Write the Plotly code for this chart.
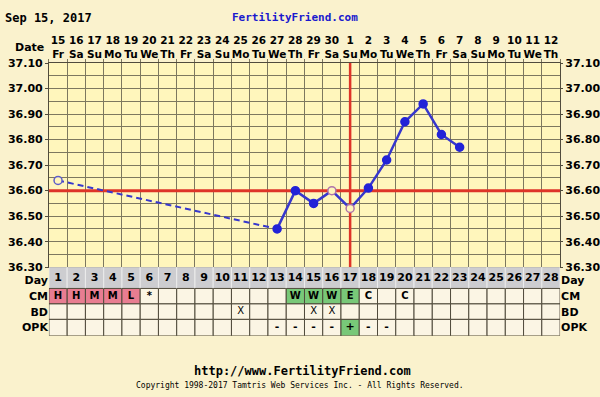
import plotly.graph_objects as go

# ---------------- data ----------------
date_nums = ["15", "16", "17", "18", "19", "20", "21", "22", "23", "24", "25", "26", "27", "28",
             "29", "30", "1", "2", "3", "4", "5", "6", "7", "8", "9", "10", "11", "12"]
weekdays = ["Fr", "Sa", "Su", "Mo", "Tu", "We", "Th"] * 4
cycle_days = list(range(1, 29))

temp_days = [1, 13, 14, 15, 16, 17, 18, 19, 20, 21, 22, 23]
temps = [36.64, 36.45, 36.60, 36.55, 36.60, 36.53, 36.61, 36.72, 36.87, 36.94, 36.82, 36.77]
open_days = [1, 16, 17]

coverline = 36.60
ovulation_day = 17
temp_ticks = [36.30, 36.40, 36.50, 36.60, 36.70, 36.80, 36.90, 37.00, 37.10]

cm_days = [1, 2, 3, 4, 5, 6, 14, 15, 16, 17, 18, 20]
cm_codes = ["H", "H", "M", "M", "L", "*", "W", "W", "W", "E", "C", "C"]
bd_days = [11, 15, 16]
bd_codes = ["X", "X", "X"]
opk_days = [13, 14, 15, 16, 17, 18, 19]
opk_codes = ["-", "-", "-", "-", "+", "-", "-"]

row_names = ["Day", "CM", "BD", "OPK"]

# ---------------- style ----------------
W, H = 600, 397
PAPER = "rgb(250,242,205)"
PLOT = "rgb(255,246,188)"
GRID = "rgb(125,120,95)"
BORDER = "rgb(80,75,60)"
BLUE = "rgb(35,35,215)"
LINEBLUE = "rgb(55,55,205)"
RED = "rgb(222,52,40)"
PINK = "rgb(232,125,145)"
GREEN = "rgb(120,200,120)"
CELL = "rgb(251,245,228)"
DAYROW = "rgb(205,205,208)"
FONT = "DejaVu Sans"

def px_x(p):
    return p / W

def px_y(p):
    return 1 - p / H

PLOT_L, PLOT_R, PLOT_T, PLOT_B = 49, 561, 59, 270
TABLE_B = 341
# table row edges (in table-axis units, pixels from top of table)
row_edges = [0, 22, 38, 54, 71]
row_centers = [(row_edges[i] + row_edges[i + 1]) / 2 for i in range(4)]
row_label_pos = [row_centers[0] + 2.5] + row_centers[1:]

fig = go.Figure()

# dashed segment across the missing days
fig.add_trace(go.Scatter(x=temp_days[:2], y=temps[:2], mode="lines",
                         line=dict(color=LINEBLUE, width=2, dash="6px,4px"),
                         hoverinfo="skip", showlegend=False))
# solid line
fig.add_trace(go.Scatter(x=temp_days[1:], y=temps[1:], mode="lines",
                         line=dict(color=LINEBLUE, width=2.5),
                         hoverinfo="skip", showlegend=False))
# markers
mfill, mline = [], []
for d in temp_days:
    if d in open_days:
        mfill.append(PLOT)
        mline.append("rgb(95,95,200)" if d == temp_days[0] else "rgb(175,115,170)")
    else:
        mfill.append(BLUE)
        mline.append(BLUE)
fig.add_trace(go.Scatter(x=temp_days, y=temps, mode="markers",
                         marker=dict(size=8, color=mfill, line=dict(color=mline, width=1.5)),
                         showlegend=False))

# invisible trace for right temperature axis
fig.add_trace(go.Scatter(x=[cycle_days[0]], y=[temp_ticks[0]], yaxis="y3", mode="markers",
                         marker=dict(opacity=0), hoverinfo="skip", showlegend=False))

# table text
fig.add_trace(go.Scatter(x=cycle_days, y=[row_centers[0]] * len(cycle_days), yaxis="y2",
                         mode="text", text=[str(d) for d in cycle_days],
                         textfont=dict(family=FONT, size=11, color="black", weight="bold"),
                         showlegend=False, hoverinfo="skip"))
fig.add_trace(go.Scatter(x=cm_days, y=[row_centers[1]] * len(cm_days), yaxis="y2",
                         mode="text", text=cm_codes,
                         textfont=dict(family=FONT, size=10, color="black", weight="bold"),
                         showlegend=False, hoverinfo="skip"))
fig.add_trace(go.Scatter(x=bd_days, y=[row_centers[2]] * len(bd_days), yaxis="y2",
                         mode="text", text=bd_codes,
                         textfont=dict(family=FONT, size=10, color="black"),
                         showlegend=False, hoverinfo="skip"))
fig.add_trace(go.Scatter(x=opk_days, y=[row_centers[3]] * len(opk_days), yaxis="y2",
                         mode="text", text=opk_codes,
                         textfont=dict(family=FONT, size=11, color="black", weight="bold"),
                         showlegend=False, hoverinfo="skip"))
# invisible trace for right table axis
fig.add_trace(go.Scatter(x=[cycle_days[0]], y=[row_centers[0]], yaxis="y4", mode="markers",
                         marker=dict(opacity=0), hoverinfo="skip", showlegend=False))

shapes = []
def cell_color(code):
    if code in ("H", "M", "L"):
        return PINK
    if code in ("W", "E"):
        return GREEN
    return CELL

cm_map = dict(zip(cm_days, cm_codes))
opk_map = dict(zip(opk_days, opk_codes))
for d in cycle_days:
    shapes.append(dict(type="rect", xref="x", yref="y2", x0=d - 0.5, x1=d + 0.5,
                       y0=row_edges[0], y1=row_edges[1], fillcolor=DAYROW,
                       line=dict(color="rgb(236,236,236)", width=1), layer="between"))
    shapes.append(dict(type="rect", xref="x", yref="y2", x0=d - 0.5, x1=d + 0.5,
                       y0=row_edges[1], y1=row_edges[2], fillcolor=cell_color(cm_map.get(d, "")),
                       line=dict(color=BORDER, width=1), layer="between"))
    shapes.append(dict(type="rect", xref="x", yref="y2", x0=d - 0.5, x1=d + 0.5,
                       y0=row_edges[2], y1=row_edges[3], fillcolor=CELL,
                       line=dict(color=BORDER, width=1), layer="between"))
    shapes.append(dict(type="rect", xref="x", yref="y2", x0=d - 0.5, x1=d + 0.5,
                       y0=row_edges[3], y1=row_edges[4],
                       fillcolor=GREEN if opk_map.get(d) == "+" else CELL,
                       line=dict(color=BORDER, width=1), layer="between"))

# coverline and ovulation line
shapes.append(dict(type="line", xref="x", yref="y", x0=0.5, x1=28.5, y0=coverline, y1=coverline,
                   line=dict(color=RED, width=3), layer="between"))
shapes.append(dict(type="line", xref="x", yref="y", x0=ovulation_day, x1=ovulation_day,
                   y0=temp_ticks[0], y1=temp_ticks[-1], line=dict(color=RED, width=2.5),
                   layer="between"))

annotations = [
    dict(text="Sep 15, 2017", x=px_x(3), y=px_y(12.5), xanchor="left", yanchor="middle",
         font=dict(family="DejaVu Sans Mono", size=12, color="black", weight="bold")),
    dict(text="FertilityFriend.com", x=px_x(295), y=px_y(12), xanchor="center", yanchor="middle",
         font=dict(family="DejaVu Sans Mono", size=11, color="rgb(25,25,205)", weight="bold")),
    dict(text="Date", x=px_x(46), y=px_y(42.5), xanchor="right", yanchor="middle",
         font=dict(family=FONT, size=11, color="black", weight="bold")),
    dict(text="http://www.FertilityFriend.com", x=px_x(303), y=px_y(377), xanchor="center",
         yanchor="middle",
         font=dict(family="DejaVu Sans Mono", size=12, color="black", weight="bold")),
    dict(text="Copyright 1998-2017 Tamtris Web Services Inc. - All Rights Reserved.",
         x=px_x(301), y=px_y(392), xanchor="center", yanchor="middle",
         font=dict(family="DejaVu Sans Mono", size=8, color="black")),
]
for a in annotations:
    a.update(xref="paper", yref="paper", showarrow=False)

tick_text = [f"{n}<br>{w}" for n, w in zip(date_nums, weekdays)]
temp_labels = [f"{t:.2f}" for t in temp_ticks]

fig.update_layout(
    width=W, height=H,
    margin=dict(l=0, r=0, t=0, b=0),
    paper_bgcolor=PAPER, plot_bgcolor=PLOT,
    showlegend=False,
    shapes=shapes, annotations=annotations,
    xaxis=dict(domain=[px_x(PLOT_L), px_x(PLOT_R)], range=[0.5, 28.5], side="top",
               anchor="y", tickmode="array", tickvals=cycle_days, ticktext=tick_text,
               tickangle=0,
               tickfont=dict(family=FONT, size=10.5, color="black", weight="bold"),
               showgrid=False, zeroline=False, ticks="",
               minor=dict(tick0=0.5, dtick=1, showgrid=True, gridcolor=GRID, gridwidth=1,
                          ticks="outside", ticklen=3, tickcolor=GRID),
               showline=True, linecolor=BORDER, linewidth=1, mirror=True),
    yaxis=dict(domain=[px_y(PLOT_B), px_y(PLOT_T)], range=[temp_ticks[0], temp_ticks[-1]],
               anchor="x", tickmode="array", tickvals=temp_ticks, ticktext=temp_labels,
               tickfont=dict(family=FONT, size=11, color="black", weight="bold"),
               showgrid=True, gridcolor=GRID, gridwidth=1, zeroline=False,
               ticks="outside", ticklen=3, tickcolor=BORDER,
               minor=dict(dtick=0.05, tick0=36.30, showgrid=True, gridcolor=GRID, gridwidth=1),
               showline=True, linecolor=BORDER, linewidth=1, mirror=True),
    yaxis3=dict(overlaying="y", side="right", anchor="x", range=[temp_ticks[0], temp_ticks[-1]],
                tickmode="array", tickvals=temp_ticks, ticktext=temp_labels,
                tickfont=dict(family=FONT, size=11, color="black", weight="bold"),
                showgrid=False, zeroline=False, ticks="outside", ticklen=2, tickcolor=BORDER),
    yaxis2=dict(domain=[px_y(TABLE_B), px_y(PLOT_B)], range=[row_edges[-1], row_edges[0]],
                anchor="x", tickmode="array", tickvals=row_label_pos, ticktext=row_names,
                tickfont=dict(family=FONT, size=11, color="black", weight="bold"),
                showgrid=False, zeroline=False, ticks=""),
    yaxis4=dict(overlaying="y2", side="right", anchor="x", range=[row_edges[-1], row_edges[0]],
                tickmode="array", tickvals=row_label_pos, ticktext=row_names,
                tickfont=dict(family=FONT, size=11, color="black", weight="bold"),
                showgrid=False, zeroline=False, ticks=""),
)

fig.write_html("out.html")
